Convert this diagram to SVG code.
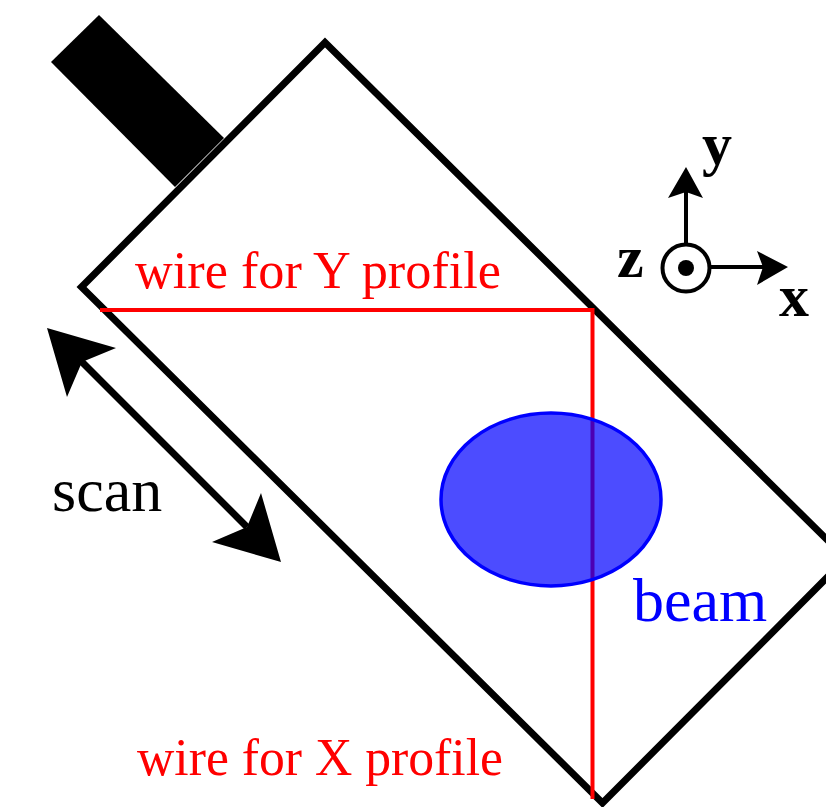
<svg xmlns="http://www.w3.org/2000/svg" width="826" height="807" viewBox="0 0 826 807">
<style>
text{font-family:"Liberation Serif","Times New Roman",serif}
.red{fill:#ff0000;font-size:52px}
.lbl{font-size:62px}
.ax{font-size:60px;font-weight:bold;fill:#000}
.wire{fill:none;stroke:#ff0000;stroke-width:4}
.blk{fill:none;stroke:#000;stroke-width:7}
.thin{fill:none;stroke:#000;stroke-width:4}
</style>
<rect width="826" height="807" fill="#fff"/>
<g id="holder"><polygon points="99,15 51,62 175,187 224,138" fill="#000"/></g>
<g id="frame"><polygon class="blk" points="325,42.500 81.500,287 602.500,803 846,558.500"/></g>
<g id="wires">
<path class="wire" d="M100,310H592.500V799"/>
</g>
<g id="beam"><ellipse cx="551" cy="499.500" rx="110" ry="86.500" fill="#0000ff" fill-opacity="0.7" stroke="#0000ff" stroke-width="3.500"/></g>
<g id="connectors">
<path class="blk" d="M80,360L247,527"/>
<polygon points="47,328 116,348 82,362 67,397" fill="#000"/>
<polygon points="281,562 261,493 247,527 212,542" fill="#000"/>
<path class="thin" d="M686,244V190"/>
<polygon points="686,167 668,198 686,192 703,198" fill="#000"/>
<path class="thin" d="M711,267H770"/>
<polygon points="788,267 757,251 763,267 757,285" fill="#000"/>
</g>
<g id="z-axis"><circle cx="686" cy="268" r="23.500" fill="#fff" stroke="#000" stroke-width="4"/><circle cx="686" cy="268" r="8" fill="#000"/></g>
<g id="labels">
<text class="red" x="135" y="288" textLength="366" lengthAdjust="spacingAndGlyphs">wire for Y profile</text>
<text class="red" x="137" y="775" textLength="366" lengthAdjust="spacingAndGlyphs">wire for X profile</text>
<text class="lbl" x="52" y="511" fill="#000">scan</text>
<text class="lbl" x="633" y="621" fill="#0000ff">beam</text>
<text class="ax" x="702" y="164">y</text>
<text class="ax" x="617" y="277">z</text>
<text class="ax" x="779" y="316">x</text>
</g>
</svg>
